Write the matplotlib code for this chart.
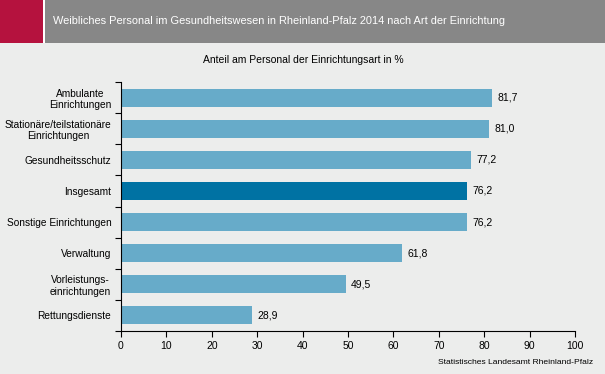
import matplotlib.pyplot as plt
from matplotlib.patches import Rectangle

# data
categories = ['Ambulante\nEinrichtungen', 'Stationäre/teilstationäre\nEinrichtungen',
              'Gesundheitsschutz', 'Insgesamt', 'Sonstige Einrichtungen', 'Verwaltung',
              'Vorleistungs-\neinrichtungen', 'Rettungsdienste']
values = [81.7, 81.0, 77.2, 76.2, 76.2, 61.8, 49.5, 28.9]
highlight = 'Insgesamt'

light = '#67abc9'
dark = '#0072a3'
bg = '#ecedec'

fig = plt.figure(figsize=(6.05, 3.74), dpi=100, facecolor=bg)
plt.rcParams['font.family'] = 'Liberation Sans'

# header band
fig.patches.append(Rectangle((0, 1 - 43 / 374), 1, 43 / 374, transform=fig.transFigure,
                             facecolor='#878787', edgecolor='none'))
fig.patches.append(Rectangle((0, 1 - 43 / 374), 43 / 605, 43 / 374, transform=fig.transFigure,
                             facecolor='#b5123e', edgecolor='none'))
fig.patches.append(Rectangle((43 / 605, 1 - 43 / 374), 2 / 605, 43 / 374, transform=fig.transFigure,
                             facecolor='white', edgecolor='none'))
fig.text(53 / 605, 1 - 21 / 374, 'Weibliches Personal im Gesundheitswesen in Rheinland-Pfalz 2014 nach Art der Einrichtung',
         color='white', fontsize=7.9, va='center', ha='left')

ax = fig.add_axes([121 / 605, 1 - 331 / 374, (575 - 121) / 605, (331 - 82) / 374])
ax.set_facecolor('none')

ypos = list(range(len(categories)))
colors = [dark if c == highlight else light for c in categories]
ax.barh(ypos, values, height=0.58, color=colors)
for y, v in zip(ypos, values):
    ax.text(v + 1.2, y, f'{v:.1f}'.replace('.', ','), va='center', ha='left', fontsize=7.5)

ax.set_ylim(len(categories) - 0.5, -0.5)
ax.set_xlim(0, 100)
ax.set_xticks(range(0, 101, 10))
ax.set_yticks([i - 0.5 for i in range(len(categories) + 1)], minor=False)
ax.set_yticklabels([])
ax.set_yticks(ypos, minor=True)
ax.set_yticklabels(categories, minor=True, fontsize=7.3)
ax.tick_params(axis='y', which='minor', length=0, pad=7)
ax.tick_params(axis='y', which='major', length=4, direction='out')
ax.tick_params(axis='x', length=4, labelsize=7.5, pad=3)
for lbl in ax.get_yticklabels(minor=True):
    lbl.set_multialignment('center')
for s in ['top', 'right']:
    ax.spines[s].set_visible(False)

fig.text(303 / 605, 1 - 60 / 374, 'Anteil am Personal der Einrichtungsart in %',
         fontsize=7.5, ha='center', va='center')
fig.text(593 / 605, 1 - 363 / 374, 'Statistisches Landesamt Rheinland-Pfalz',
         fontsize=6.1, ha='right', va='center')

fig.savefig('out.png', dpi=100, facecolor=bg)
